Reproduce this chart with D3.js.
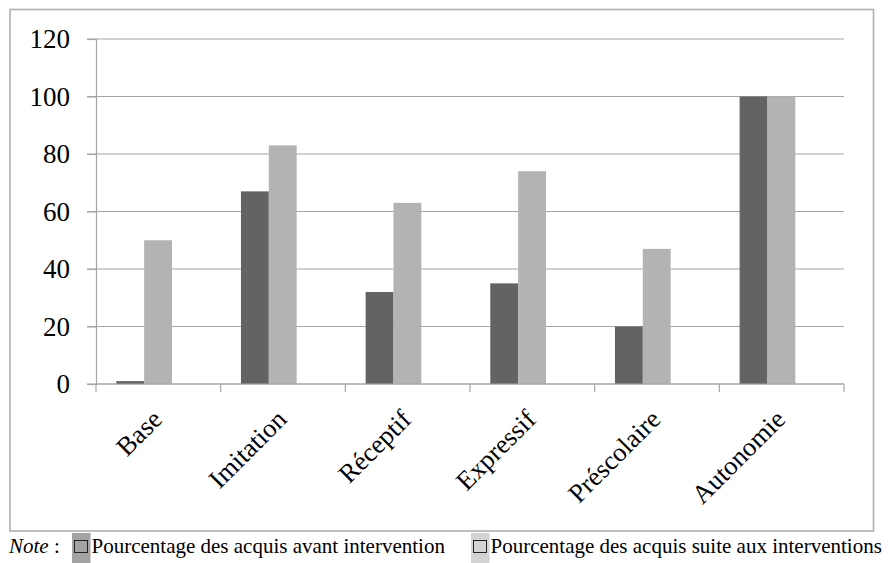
<!DOCTYPE html>
<html>
<head>
<meta charset="utf-8">
<script src="https://cdn.jsdelivr.net/npm/d3@7"></script>
<style>
  body { margin: 0; background: #fff; }
  svg { display: block; }
  svg text { font-family: "Liberation Serif", "Times New Roman", "DejaVu Serif", serif; }
</style>
</head>
<body>
<svg id="chart" width="891" height="563"></svg>
<script>
// data
const categories = ["Base", "Imitation", "Réceptif", "Expressif", "Préscolaire", "Autonomie"]
const avant = [1, 67, 32, 35, 20, 100]
const suite = [50, 83, 63, 74, 47, 100]
const seriesNames = ["Pourcentage des acquis avant intervention", "Pourcentage des acquis suite aux interventions"]
const seriesColors = ["#636363", "#b3b3b3"]
const legendBoxColors = ["#a3a3a3", "#d3d3d3"]
const yTicks = [0, 20, 40, 60, 80, 100, 120]

const svg = d3.select("#chart")

// outer frame
svg.append("rect")
  .attr("x", 10).attr("y", 9.5)
  .attr("width", 863.5).attr("height", 521.5)
  .attr("fill", "#fff")
  .attr("stroke", "#b0b0b0")
  .attr("stroke-width", 1.6)

const x = d3.scaleBand().domain(categories).range([96, 844]).paddingInner(0)
const xs = d3.scaleBand().domain([0, 1]).range([20.3, 76])
const y = d3.scaleLinear().domain([0, 120]).range([384, 39])

// gridlines
svg.append("g")
  .selectAll("line.grid")
  .data(yTicks)
  .enter().append("line")
  .attr("class", "grid")
  .attr("x1", 87).attr("x2", 844)
  .attr("y1", d => y(d)).attr("y2", d => y(d))
  .attr("stroke", "#a6a6a6")
  .attr("stroke-width", 1.2)

// y axis
const yAxis = svg.append("g")
  .attr("transform", "translate(96,0)")
  .call(d3.axisLeft(y).tickValues(yTicks).tickSize(9).tickPadding(17))
yAxis.attr("font-family", null)
yAxis.select(".domain").attr("stroke", "#a6a6a6").attr("stroke-width", 1.2)
yAxis.selectAll(".tick line").attr("stroke", "#a6a6a6").attr("stroke-width", 1.2)
yAxis.selectAll(".tick text")
  .style("font-size", "27px")
  .attr("fill", "#000")

// bars
const groups = svg.append("g")
  .selectAll("g.cat")
  .data(categories.map((c, i) => ({ cat: c, vals: [avant[i], suite[i]] })))
  .enter().append("g")
  .attr("class", "cat")
  .attr("transform", d => `translate(${x(d.cat)},0)`)

groups.selectAll("rect")
  .data(d => d.vals)
  .enter().append("rect")
  .attr("x", (d, i) => xs(i))
  .attr("width", xs.bandwidth())
  .attr("y", d => y(d))
  .attr("height", d => y(0) - y(d))
  .attr("fill", (d, i) => seriesColors[i])

// x axis line + boundary ticks
svg.append("line")
  .attr("x1", 96).attr("x2", 844)
  .attr("y1", y(0)).attr("y2", y(0))
  .attr("stroke", "#a6a6a6")
  .attr("stroke-width", 1.2)

svg.append("g")
  .selectAll("line.xtick")
  .data(categories.map(c => x(c)).concat([x.range()[1]]))
  .enter().append("line")
  .attr("class", "xtick")
  .attr("x1", d => d).attr("x2", d => d)
  .attr("y1", y(0)).attr("y2", y(0) + 8)
  .attr("stroke", "#a6a6a6")
  .attr("stroke-width", 1.2)

// category labels
svg.append("g")
  .selectAll("text.cat")
  .data(categories)
  .enter().append("text")
  .attr("class", "cat")
  .attr("transform", d => `translate(${x(d) + 67.5},421) rotate(-45)`)
  .attr("text-anchor", "end")
  .style("font-size", "26.5px")
  .attr("fill", "#000")
  .text(d => d)

// legend note
const legend = svg.append("g").style("font-size", "21px").attr("fill", "#000")
const note = legend.append("text").attr("x", 9).attr("y", 553)
note.append("tspan").style("font-style", "italic").text("Note")
note.append("tspan").text(" : ")

const legendX = [72, 471]
seriesNames.forEach((name, i) => {
  legend.append("rect")
    .attr("x", legendX[i]).attr("y", 533)
    .attr("width", 18.5).attr("height", 32)
    .attr("fill", legendBoxColors[i])
  legend.append("rect")
    .attr("x", legendX[i] + 2.5).attr("y", 540.5)
    .attr("width", 13).attr("height", 12)
    .attr("fill", "none")
    .attr("stroke", "#222")
    .attr("stroke-width", 1)
  legend.append("text")
    .attr("x", legendX[i] + 19.5).attr("y", 553)
    .text(name)
})
</script>
</body>
</html>
